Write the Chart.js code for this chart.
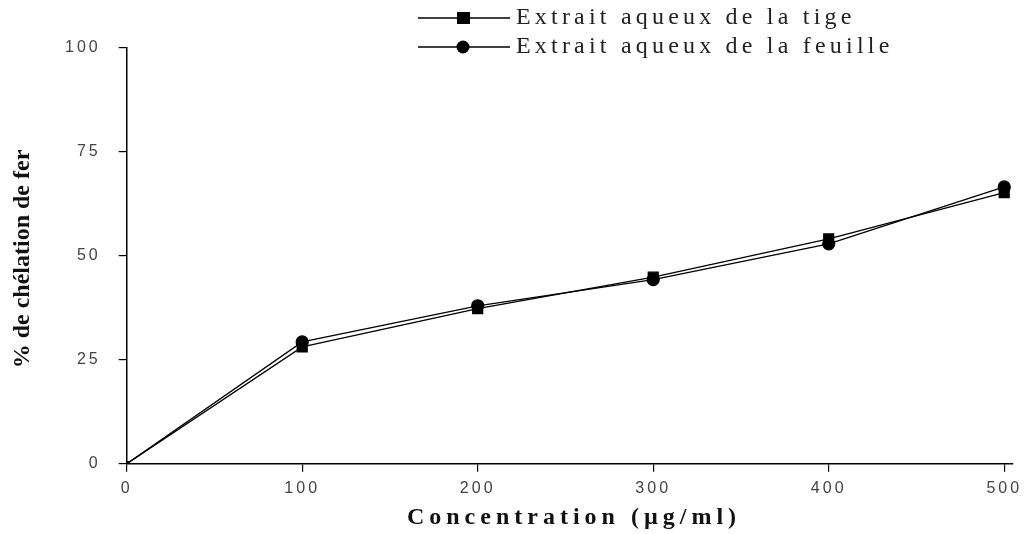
<!DOCTYPE html>
<html>
<head>
<meta charset="utf-8">
<script src="https://cdn.jsdelivr.net/npm/chart.js@4/dist/chart.umd.min.js"></script>
<style>
  html, body { margin: 0; padding: 0; background: #fff; }
  #wrap { width: 1030px; height: 534px; }
</style>
</head>
<body>
<div id="wrap"><canvas id="chelationChart" width="1030" height="534"></canvas></div>
<script>
const concentrations = [0, 100, 200, 300, 400, 500];
const tigeValues = [0, 28.1, 37.3, 44.9, 54.1, 65.2];
const feuilleValues = [0, 29.3, 38.0, 44.3, 52.9, 66.6];
const seriesNames = ['Extrait aqueux de la tige', 'Extrait aqueux de la feuille'];
const xTicks = [0, 100, 200, 300, 400, 500];
const yTicks = [0, 25, 50, 75, 100];
const xTitle = 'Concentration (µg/ml)';
const yTitle = '% de chélation de fer';

function toPoints(values) {
  return concentrations.map((c, i) => ({ x: c, y: values[i] }));
}

// the original figure is stretched sideways, so tick text gets some letter spacing
const spacing = {
  id: 'spacing',
  beforeLayout(chart) { chart.ctx.letterSpacing = '3px'; },
  beforeDraw(chart) { chart.ctx.letterSpacing = '3px'; }
};

// legend (line with marker) and axis titles drawn by hand
const extras = {
  id: 'extras',
  afterDraw(chart) {
    const ctx = chart.ctx;
    const rows = [18, 47];
    ctx.save();
    chart.data.datasets.forEach((ds, i) => {
      const y = rows[i];
      ctx.strokeStyle = '#000';
      ctx.lineWidth = 1.5;
      ctx.beginPath();
      ctx.moveTo(418, y);
      ctx.lineTo(510, y);
      ctx.stroke();
      ctx.fillStyle = '#000';
      if (ds.pointStyle === 'rect') {
        ctx.fillRect(457, y - 6, 13, 12);
      } else {
        ctx.beginPath();
        ctx.arc(463, y, 6.5, 0, Math.PI * 2);
        ctx.fill();
      }
      ctx.fillStyle = '#222';
      ctx.letterSpacing = '4.2px';
      ctx.font = '24px "Liberation Serif", serif';
      ctx.textBaseline = 'middle';
      ctx.textAlign = 'left';
      ctx.fillText(ds.label, 516, y);
    });

    ctx.fillStyle = '#111';
    ctx.letterSpacing = '5px';
    ctx.font = 'bold 24px "Liberation Serif", serif';
    ctx.textAlign = 'center';
    ctx.textBaseline = 'middle';
    ctx.fillText(xTitle, 574, 518);

    ctx.letterSpacing = '0px';
    ctx.font = 'bold 24px "Liberation Serif", serif';
    ctx.translate(23, 259);
    ctx.rotate(-Math.PI / 2);
    ctx.fillText(yTitle, 0, 0);
    ctx.restore();
  }
};

const ctx = document.getElementById('chelationChart').getContext('2d');
new Chart(ctx, {
  type: 'line',
  data: {
    datasets: [
      {
        label: seriesNames[0],
        data: toPoints(tigeValues),
        borderColor: '#000',
        backgroundColor: '#000',
        borderWidth: 1.3,
        pointStyle: 'rect',
        pointRadius: c => c.dataIndex === 0 ? 3 : 7,
        tension: 0
      },
      {
        label: seriesNames[1],
        data: toPoints(feuilleValues),
        borderColor: '#000',
        backgroundColor: '#000',
        borderWidth: 1.3,
        pointStyle: 'circle',
        pointRadius: c => c.dataIndex === 0 ? 2 : 6,
        tension: 0
      }
    ]
  },
  options: {
    responsive: false,
    animation: false,
    layout: { padding: { top: 48, right: 17, left: 47, bottom: 29 } },
    plugins: {
      legend: { display: false },
      tooltip: { enabled: false }
    },
    scales: {
      x: {
        type: 'linear',
        min: 0,
        max: 505,
        afterBuildTicks: axis => { axis.ticks = xTicks.map(v => ({ value: v })); },
        ticks: {
          color: '#444',
          font: { size: 16, family: '"Liberation Sans", Arial, sans-serif' },
          padding: 7,
          maxRotation: 0
        },
        grid: { drawOnChartArea: false, drawTicks: true, tickLength: 8, color: '#000', lineWidth: 1.2 },
        border: { display: true, color: '#000', width: 1.5 }
      },
      y: {
        min: 0,
        max: 100,
        afterBuildTicks: axis => { axis.ticks = yTicks.map(v => ({ value: v })); },
        ticks: {
          color: '#444',
          font: { size: 16, family: '"Liberation Sans", Arial, sans-serif' },
          padding: 18
        },
        grid: { drawOnChartArea: false, drawTicks: true, tickLength: 8, color: '#000', lineWidth: 1.2 },
        border: { display: true, color: '#000', width: 1.5 }
      }
    }
  },
  plugins: [spacing, extras]
});
</script>
</body>
</html>
